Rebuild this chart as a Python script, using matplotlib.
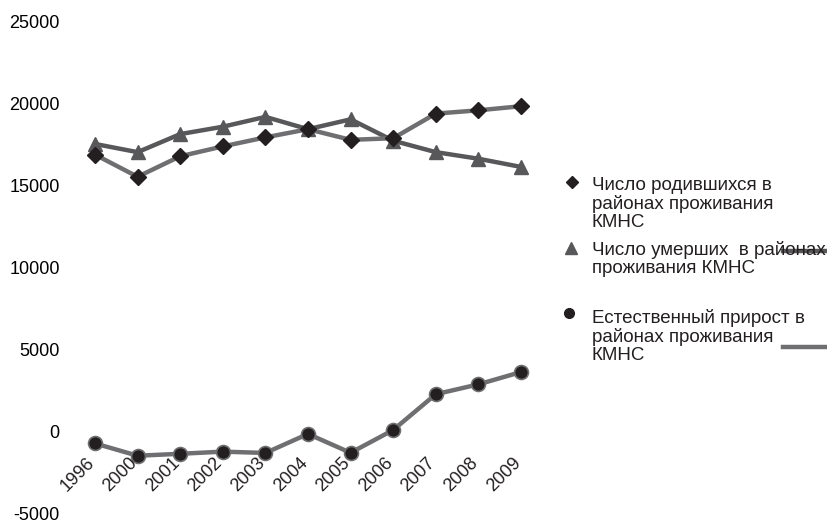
import numpy as np
import matplotlib.pyplot as plt
from matplotlib.lines import Line2D
from matplotlib.transforms import offset_copy

plt.rcParams['font.family'] = ['Liberation Sans', 'DejaVu Sans']
plt.rcParams['axes.unicode_minus'] = False

# данные
years = ["1996", "2000", "2001", "2002", "2003", "2004", "2005", "2006", "2007", "2008", "2009"]
births = [16900, 15550, 16800, 17400, 17950, 18450, 17800, 17900, 19400, 19600, 19850]
deaths = [17550, 17050, 18150, 18600, 19200, 18450, 19050, 17750, 17050, 16650, 16150]
growth = [-700, -1450, -1330, -1200, -1280, -120, -1270, 120, 2300, 2900, 3650]

labels = [
    "Число родившихся в\nрайонах проживания\nКМНС",
    "Число умерших  в районах\nпроживания КМНС",
    "Естественный прирост в\nрайонах проживания\nКМНС",
]

W, H = 828, 523
fig = plt.figure(figsize=(W / 100, H / 100), dpi=100)
ax = fig.add_axes([73.7 / W, 9 / H, (542.3 - 73.7) / W, (514 - 21.7) / H])

x = np.arange(len(years))
ax.plot(x, births, color="#6f6f71", lw=3.2, marker="D", ms=8.5,
        mfc="#231f20", mec="#231f20", zorder=3)
ax.plot(x, deaths, color="#58585a", lw=3.2, marker="^", ms=10,
        mfc="#58585a", mec="#58585a", zorder=2)
ax.plot(x, growth, color="#6f6f71", lw=3.2, marker="o", ms=10,
        mfc="#231f20", mec="#6f6f71", mew=1.2, zorder=3)

ax.set_xlim(-0.5, len(years) - 0.5)
ax.set_ylim(-5000, 25000)
ax.set_yticks(np.arange(-5000, 25001, 5000))
ax.tick_params(axis="y", length=0, labelsize=13, pad=10)
ax.set_xticks([])
for s in ax.spines.values():
    s.set_visible(False)

# подписи годов у нулевой линии, повёрнутые на 45°
tr = offset_copy(ax.transData, fig=fig, x=-9, y=-22, units="dots")
for i, yr in enumerate(years):
    ax.text(i, 0, yr, transform=tr, rotation=45, rotation_mode="anchor",
            ha="right", va="top", fontsize=13, color="#231f20")

# легенда вручную
mk = dict(ls="none", transform=fig.transFigure, clip_on=False)
fig.add_artist(Line2D([572 / W], [1 - 182 / H], marker="D", ms=6,
                      color="#231f20", **mk))
fig.add_artist(Line2D([571 / W], [1 - 248 / H], marker="^", ms=8,
                      color="#58585a", **mk))
fig.add_artist(Line2D([569 / W], [1 - 313 / H], marker="o", ms=7,
                      color="#231f20", **mk))
fig.add_artist(Line2D([783 / W, 1.0], [1 - 251 / H] * 2, lw=3.2,
                      color="#58585a", transform=fig.transFigure))
fig.add_artist(Line2D([783 / W, 1.0], [1 - 347 / H] * 2, lw=3.2,
                      color="#6f6f71", transform=fig.transFigure))
for ytop, lab in zip([177, 241, 309], labels):
    fig.text(592 / W, 1 - ytop / H, lab, ha="left", va="top", fontsize=13.5,
             color="#231f20", linespacing=1.08)

fig.savefig("out.png", dpi=100)
